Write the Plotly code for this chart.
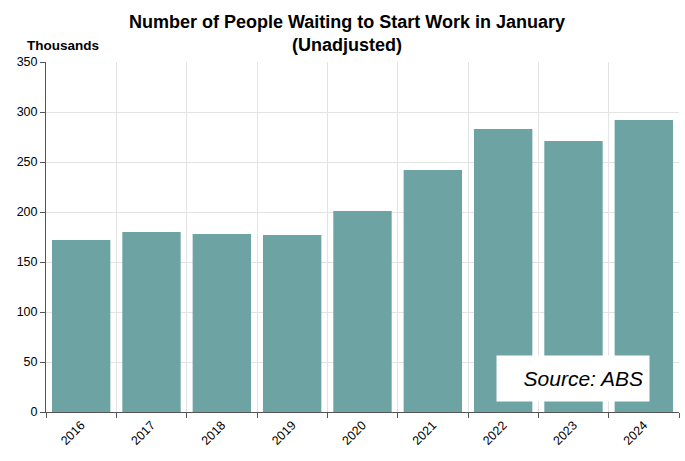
import plotly.graph_objects as go

years = ["2016", "2017", "2018", "2019", "2020", "2021", "2022", "2023", "2024"]
waiting = [172, 180, 178, 177, 201, 242, 283, 271, 292]
y_ticks = [0, 50, 100, 150, 200, 250, 300, 350]

fig = go.Figure()
fig.add_trace(go.Bar(x=years, y=waiting, marker=dict(color="#6DA3A3", line=dict(width=0))))

fig.update_layout(
    width=685, height=461,
    margin=dict(l=46, r=6, t=62, b=49),
    paper_bgcolor="white", plot_bgcolor="white",
    font=dict(family="Liberation Sans, Arial, sans-serif", size=12, color="black"),
    bargap=0.17,
    showlegend=False,
    xaxis=dict(
        type="category", tickson="boundaries", showgrid=True, gridcolor="#E3E3E3",
        showline=True, linecolor="#555555", linewidth=1,
        ticks="outside", ticklen=5, tickcolor="#555555",
        tickangle=-45, tickfont=dict(size=12.5),
    ),
    yaxis=dict(
        range=[0, 350], tickvals=y_ticks, showgrid=True, gridcolor="#E3E3E3",
        showline=True, linecolor="#555555", linewidth=1,
        ticks="outside", ticklen=5, tickcolor="#555555",
        tickfont=dict(size=12.5), zeroline=False,
    ),
    annotations=[
        dict(text="<b>Number of People Waiting to Start Work in January<br>(Unadjusted)</b>",
             xref="paper", yref="paper", x=0.4755, y=1.013, xanchor="center", yanchor="bottom",
             showarrow=False, font=dict(size=18, color="black"), align="center"),
        dict(text="<b>Thousands</b>", xref="paper", yref="paper", x=-0.033, y=1.02,
             xanchor="left", yanchor="bottom", showarrow=False, font=dict(size=13.5)),
        dict(text="<i>Source: ABS</i>", xref="paper", yref="paper", x=0.954, y=0.0286,
             xanchor="right", yanchor="bottom", showarrow=False, font=dict(size=21),
             bgcolor="white", borderpad=6, width=140, height=33, align="right"),
    ],
)

fig.write_html("out.html")
